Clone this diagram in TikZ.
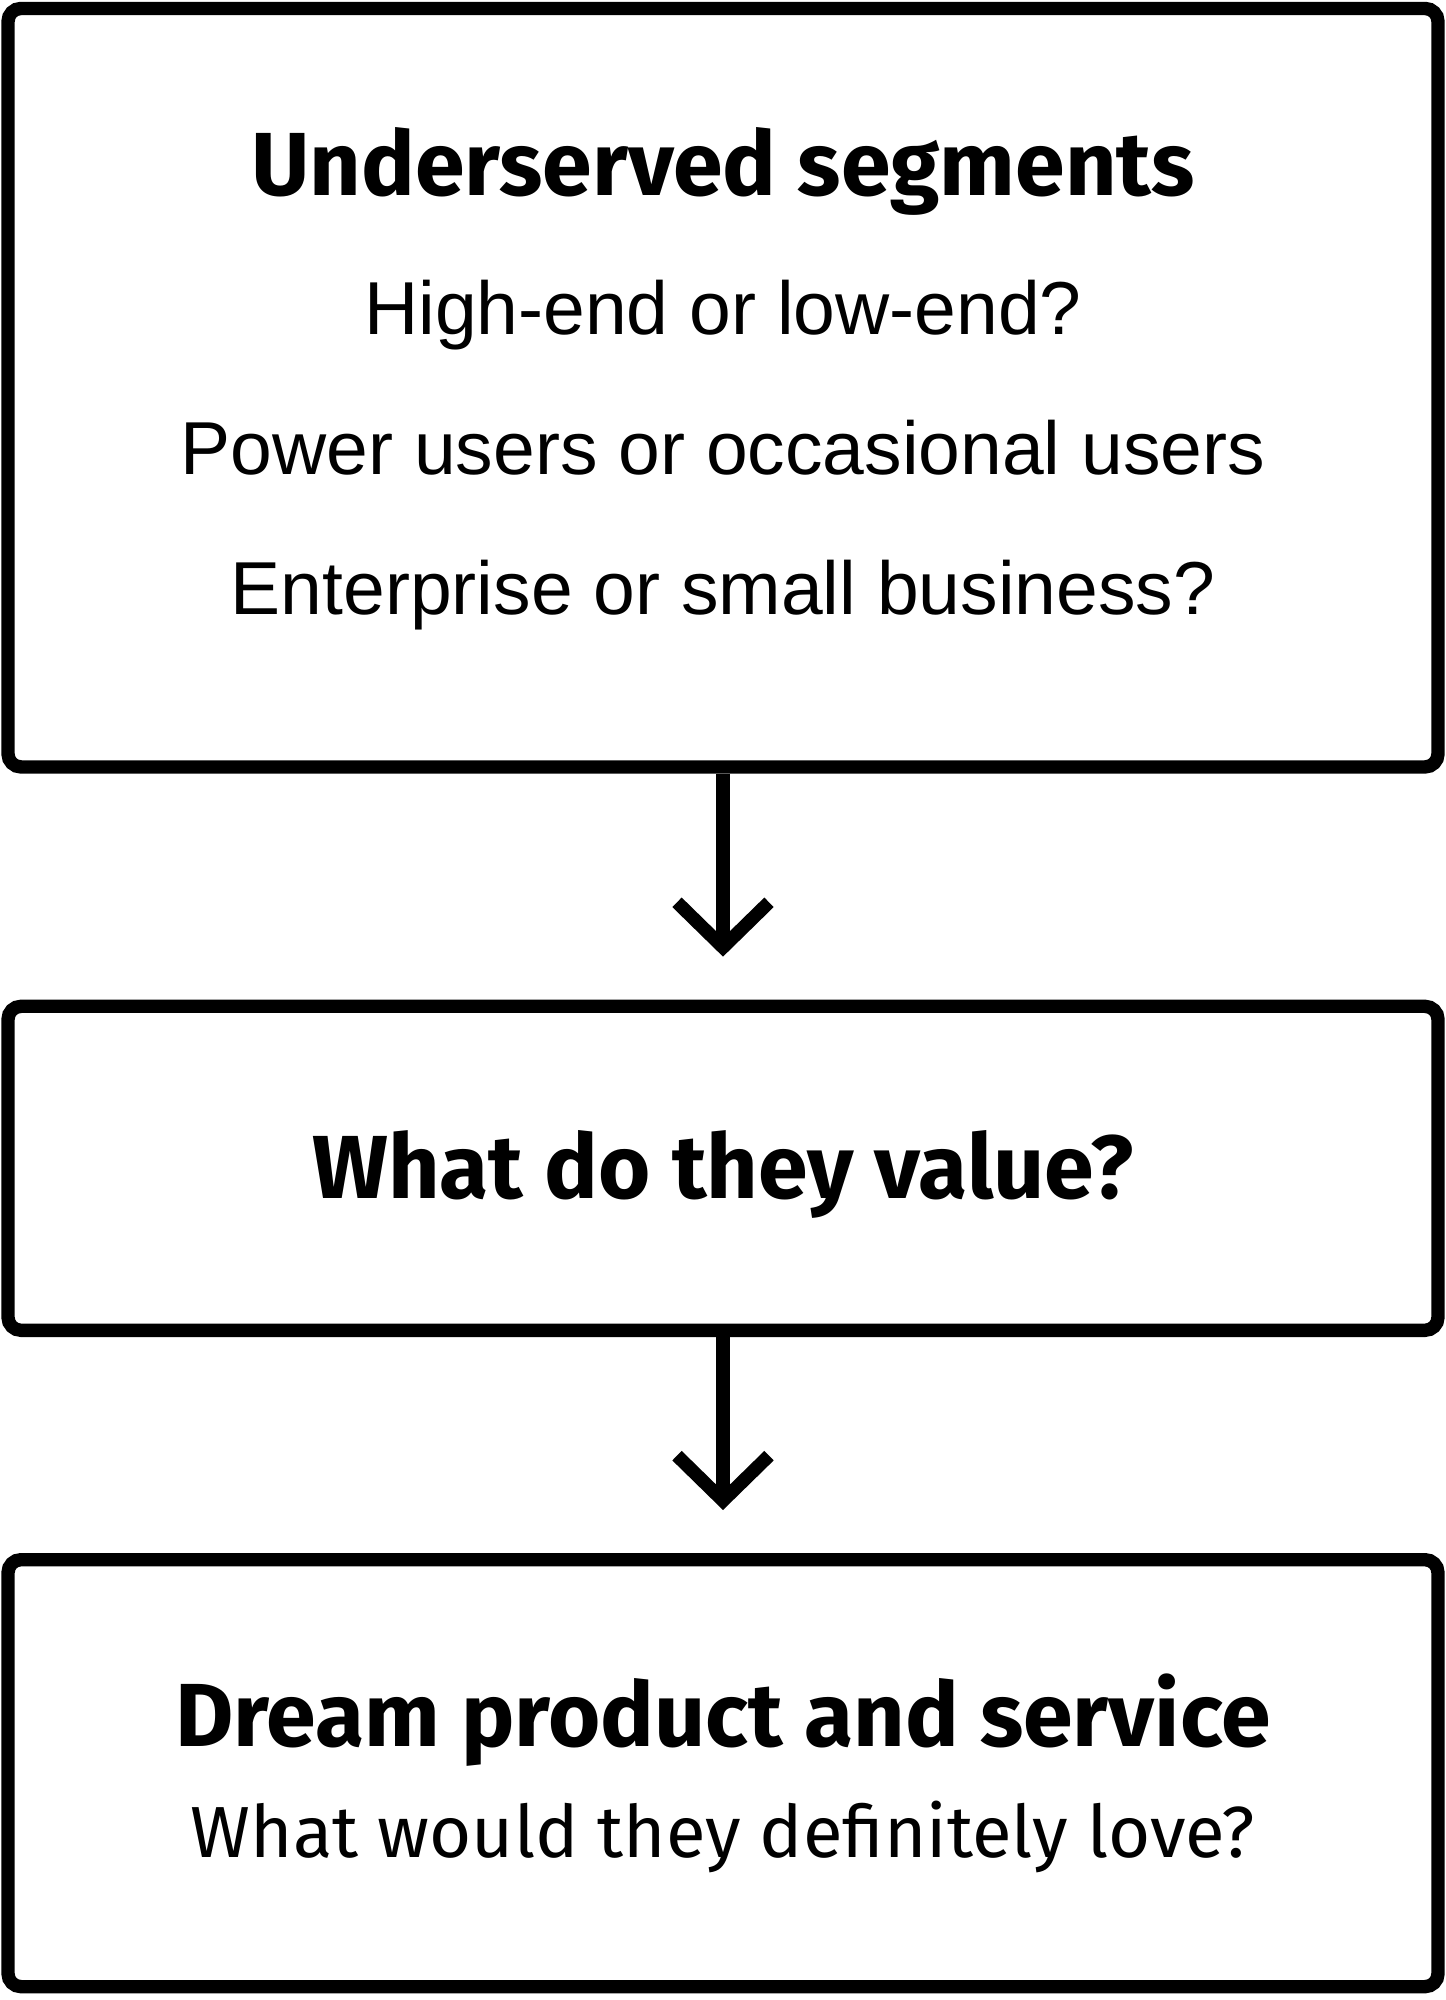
\documentclass[tikz,border=0pt]{standalone}
\usepackage{fontspec}
\setmainfont{Fira Sans}
\newfontfamily\bodyfont{Liberation Sans}
\usetikzlibrary{arrows.meta,positioning}
\newcommand{\headtext}{\bfseries\fontsize{25.5}{39.8}\selectfont}
\newcommand{\listtext}{\bodyfont\fontsize{21.35}{39.8}\selectfont}
\newcommand{\subtext}{\fontsize{20.6}{31.6}\selectfont}

\begin{document}
\begin{tikzpicture}[
    stage/.style={draw=black,line width=3.8pt,rounded corners=3.7pt,align=center,
      minimum width=14.30cm,inner sep=0pt,fill=white,
      font=\fontsize{21.35}{39.8}\selectfont},
    arr/.style={-{Straight Barb[sharp,length=4.5mm,width=9.2mm]},line width=3.8pt,
      shorten >=0.43cm}
  ]
    \useasboundingbox (0,0) rectangle (14.46,-20);
    \node[stage,minimum height=7.585cm,text depth=9.6pt] (segments) at (7.23,-3.877)
      {{\headtext Underserved segments}\\
       {\listtext High-end or low-end?}\\
       {\listtext Power users or occasional users}\\
       {\listtext Enterprise or small business?}};
    \node[stage,minimum height=3.24cm,text height=0.8cm,text depth=0.2cm,
      below=2.26cm of segments] (value)
      {{\headtext What do they value?}};
    \node[stage,minimum height=4.27cm,below=2.16cm of value,
      font=\fontsize{20.6}{31.6}\selectfont] (dream)
      {{\headtext Dream product and service}\\
       {\subtext What would they definitely love?}};
    \draw[arr] (segments) -- (value);
    \draw[arr] (value) -- (dream);
  \end{tikzpicture}
\end{document}
